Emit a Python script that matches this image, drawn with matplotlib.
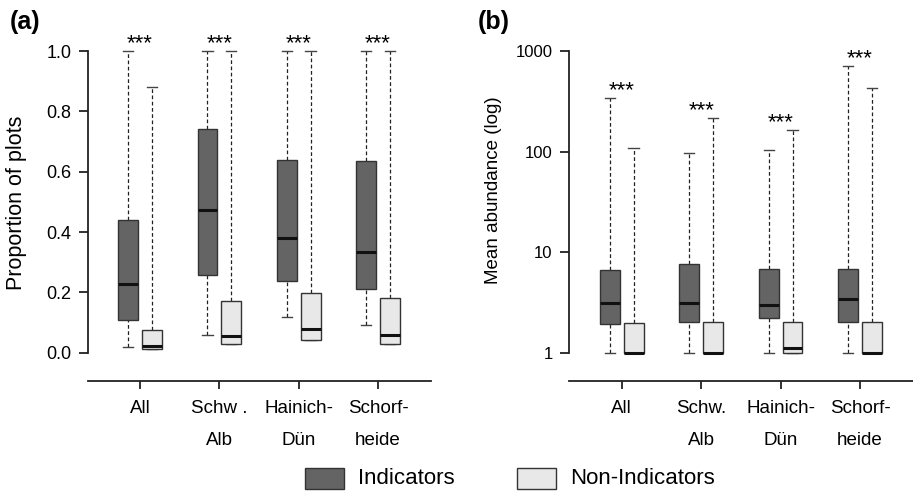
import matplotlib
matplotlib.use("Agg")
import matplotlib.pyplot as plt
from matplotlib.patches import Rectangle

plt.rcParams['font.family'] = ['Liberation Sans', 'DejaVu Sans']

categories = ["All", "Schw .\nAlb", "Hainich-\nDün", "Schorf-\nheide"]
categories_b = ["All", "Schw.\nAlb", "Hainich-\nDün", "Schorf-\nheide"]

# Panel (a): proportion of plots  [lower whisker, Q1, median, Q3, upper whisker]
prop_ind = [
    [0.020, 0.108, 0.227, 0.441, 1.00],
    [0.058, 0.256, 0.472, 0.741, 1.00],
    [0.119, 0.239, 0.381, 0.639, 1.00],
    [0.091, 0.210, 0.333, 0.636, 1.00],
]
prop_non = [
    [0.012, 0.012, 0.021, 0.074, 0.88],
    [0.029, 0.029, 0.056, 0.170, 1.00],
    [0.041, 0.041, 0.080, 0.199, 1.00],
    [0.029, 0.029, 0.060, 0.181, 1.00],
]
# Panel (b): mean abundance
abun_ind = [
    [1.0, 1.92, 3.14, 6.6, 343],
    [1.0, 2.00, 3.14, 7.7, 96],
    [1.0, 2.23, 2.96, 6.8, 104],
    [1.0, 2.00, 3.40, 6.8, 713],
]
abun_non = [
    [1.0, 1.0, 1.0, 1.96, 109],
    [1.0, 1.0, 1.0, 2.00, 217],
    [1.0, 1.0, 1.12, 2.00, 164],
    [1.0, 1.0, 1.0, 2.00, 425],
]
signif = ["***", "***", "***", "***"]

C_IND = "#646464"
C_NON = "#e8e8e8"
EDGE = "#333333"

W, H = 913, 495
fig = plt.figure(figsize=(W / 100, H / 100), dpi=100)


def px_axes(x0, x1, ytop, ybot):
    return fig.add_axes([x0 / W, 1 - ybot / H, (x1 - x0) / W, (ybot - ytop) / H])


def draw_box(ax, pos, stats, color, width=0.25, capw=0.13):
    lo, q1, med, q3, hi = stats
    ax.add_patch(Rectangle((pos - width / 2, q1), width, q3 - q1,
                           facecolor=color, edgecolor=EDGE, lw=1.0, zorder=3))
    ax.plot([pos - width / 2, pos + width / 2], [med, med], color="#111111",
            lw=2.2, zorder=4, solid_capstyle="butt")
    ax.plot([pos, pos], [q3, hi], color="#222222", lw=0.9, ls=(0, (3, 2)), zorder=2)
    ax.plot([pos, pos], [lo, q1], color="#222222", lw=0.9, ls=(0, (3, 2)), zorder=2)
    ax.plot([pos - capw / 2, pos + capw / 2], [hi, hi], color="#444444", lw=1.0, zorder=2)
    ax.plot([pos - capw / 2, pos + capw / 2], [lo, lo], color="#444444", lw=1.0, zorder=2)


def style(ax, labels, ybounds, yfs):
    for s in ["top", "right"]:
        ax.spines[s].set_visible(False)
    ax.spines["left"].set_bounds(*ybounds)
    ax.spines["left"].set_linewidth(1.3)
    ax.spines["bottom"].set_linewidth(1.3)
    ax.spines["left"].set_color("#222222")
    ax.spines["bottom"].set_color("#222222")
    ax.set_xticks([1, 2, 3, 4])
    ax.set_xticklabels(labels, fontsize=13.5, linespacing=2.1, va="top")
    ax.tick_params(axis="x", length=6, width=1.3, pad=8, color="#222222")
    ax.tick_params(axis="y", length=6.5, width=1.3, labelsize=yfs, pad=5.5, color="#222222")
    ax.set_facecolor("none")


def stars(ax, x, y, s):
    ax.annotate(s, (x, y), xytext=(0, 1.2), textcoords="offset points",
                ha="center", va="baseline", fontsize=16, annotation_clip=False)


off = 0.15
# ---- Panel (a)
ax1 = px_axes(88, 431, 40, 381)
ax1.set_xlim(0.344, 4.668)
ax1.set_ylim(-0.0938, 1.0365)
for i in range(4):
    draw_box(ax1, i + 1 - off, prop_ind[i], C_IND)
    draw_box(ax1, i + 1 + off, prop_non[i], C_NON)
    stars(ax1, i + 1, max(prop_ind[i][4], prop_non[i][4]), signif[i])
style(ax1, categories, (0, 1), 13)
ax1.set_yticks([0, 0.2, 0.4, 0.6, 0.8, 1.0])
ax1.set_yticklabels(["0.0", "0.2", "0.4", "0.6", "0.8", "1.0"])
fig.text(17 / W, 1 - 203 / H, "Proportion of plots", fontsize=15.5, rotation=90,
         ha="center", va="center")

# ---- Panel (b)
ax2 = px_axes(569.3, 913, 40, 381)
ax2.set_yscale("log")
ax2.set_xlim(0.34, 4.667)
ax2.set_ylim(10 ** -0.281, 10 ** 3.109)
for i in range(4):
    draw_box(ax2, i + 1 - off, abun_ind[i], C_IND)
    draw_box(ax2, i + 1 + off, abun_non[i], C_NON)
    stars(ax2, i + 1, max(abun_ind[i][4], abun_non[i][4]), signif[i])
style(ax2, categories_b, (1, 1000), 12)
ax2.set_yticks([1, 10, 100, 1000])
ax2.set_yticklabels(["1", "10", "100", "1000"])
ax2.minorticks_off()
fig.text(493 / W, 1 - 190 / H, "Mean abundance (log)", fontsize=13.5, rotation=90,
         ha="center", va="center")

# Panel labels
fig.text(10 / W, 1 - 22 / H, "(a)", fontsize=18, fontweight="bold", va="center", ha="left")
fig.text(478 / W, 1 - 22 / H, "(b)", fontsize=18, fontweight="bold", va="center", ha="left")

# Legend
for x0, col, lab in [(305, C_IND, "Indicators"), (517, C_NON, "Non-Indicators")]:
    fig.patches.append(Rectangle((x0 / W, 1 - 489.3 / H), 39 / W, 21 / H,
                                 transform=fig.transFigure, facecolor=col,
                                 edgecolor=EDGE, lw=1.0))
    fig.text((x0 + 53) / W, 1 - 479 / H, lab, fontsize=16, va="center", ha="left")

fig.savefig("out.png", dpi=100)
